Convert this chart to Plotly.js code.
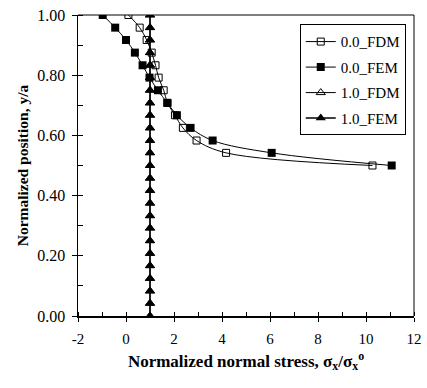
<!DOCTYPE html>
<html>
<head>
<meta charset="utf-8">
<script src="https://cdn.plot.ly/plotly-3.0.1.min.js"></script>
<style>
html,body{margin:0;padding:0;background:#fff;}
#chart{width:427px;height:388px;}
</style>
</head>
<body>
<div id="chart"></div>
<script>
// 0.0 case
var y00 = [1.000, 0.958, 0.917, 0.875, 0.833, 0.792, 0.750, 0.708, 0.667, 0.625, 0.583, 0.542, 0.500];
var x00FDM = [0.10, 0.57, 0.86, 1.07, 1.23, 1.36, 1.57, 1.73, 2.04, 2.37, 2.94, 4.17, 10.27];
var x00FEM = [-0.97, -0.45, 0.00, 0.37, 0.69, 0.98, 1.33, 1.72, 2.12, 2.69, 3.61, 6.07, 11.07];
// 1.0 case
var y10 = [0.000, 0.042, 0.083, 0.125, 0.167, 0.208, 0.250, 0.292, 0.333, 0.375, 0.417, 0.458, 0.500,
           0.542, 0.583, 0.625, 0.667, 0.708, 0.750, 0.792, 0.833, 0.875, 0.917, 0.958, 1.000];
var x10FDM = [1, 1, 1, 1, 1, 1, 1, 1, 1, 1, 1, 1, 1, 1, 1, 1, 1, 1, 1, 1, 1, 1, 1, 1, 1];
var x10FEM = [1, 1, 1, 1, 1, 1, 1, 1, 1, 1, 1, 1, 1, 1, 1, 1, 1, 1, 1, 1, 1, 1, 1, 1, 1];
var seriesNames = ['0.0_FDM', '0.0_FEM', '1.0_FDM', '1.0_FEM'];
var xTickVals = [-2, 0, 2, 4, 6, 8, 10, 12];
var yTickVals = [0, 0.2, 0.4, 0.6, 0.8, 1.0];

var FONT = 'Liberation Serif';

var traces = [
  {x: x00FDM, y: y00, name: seriesNames[0], legendgroup: 'a', mode: 'lines+markers',
   line: {color: '#000', width: 1, shape: 'spline', smoothing: 1},
   marker: {symbol: 'square-open', size: 7, color: '#000', line: {width: 1, color: '#000'}}},
  {x: x00FEM, y: y00, name: seriesNames[1], legendgroup: 'b', mode: 'lines+markers',
   line: {color: '#000', width: 1, shape: 'spline', smoothing: 1},
   marker: {symbol: 'square', size: 8, color: '#000'}},
  {x: x10FDM, y: y10, name: seriesNames[2], legendgroup: 'c', mode: 'lines+markers',
   line: {color: '#000', width: 1},
   marker: {symbol: 'triangle-up-open', size: 8, color: '#000', line: {width: 1, color: '#000'}}},
  {x: x10FEM, y: y10, name: seriesNames[3], legendgroup: 'd', mode: 'lines+markers',
   line: {color: '#000', width: 1.5},
   marker: {symbol: 'triangle-up', size: 9, color: '#000'}},
  {x: [-2], y: [0], xaxis: 'x2', yaxis: 'y2', mode: 'markers', marker: {opacity: 0}, showlegend: false, hoverinfo: 'skip'}
];

var layout = {
  width: 427, height: 388,
  margin: {l: 78, r: 13, t: 15, b: 72},
  paper_bgcolor: '#fff', plot_bgcolor: '#fff',
  font: {family: FONT, color: '#000', size: 15},
  showlegend: true,
  legend: {
    x: 0.66, y: 0.969, xanchor: 'left', yanchor: 'top',
    bgcolor: '#fff', bordercolor: '#000', borderwidth: 1,
    font: {family: FONT, size: 15, color: '#000'},
    itemwidth: 30, traceorder: 'grouped', tracegroupgap: 3
  },
  xaxis: {
    range: [-2, 12], tickvals: xTickVals, ticktext: xTickVals.map(String), automargin: false,
    showgrid: false, zeroline: false, showline: true, linecolor: '#000', linewidth: 1.5,
    ticks: 'outside', ticklen: 4, tickwidth: 1, tickcolor: '#000', ticklabelstandoff: 4,
    minor: {ticks: 'inside', dtick: 1, ticklen: 4, tickwidth: 1, tickcolor: '#000', showgrid: false},
    tickfont: {family: FONT, size: 15, color: '#000'},
    title: {text: '<b>Normalized normal stress, σ<sub>x</sub>/σ<sub>x</sub><sup>o</sup></b>', font: {family: FONT, size: 17, color: '#000'}, standoff: 9},
    fixedrange: true
  },
  yaxis: {
    range: [0, 1], tickvals: yTickVals, tickformat: '.2f', automargin: false,
    showgrid: false, zeroline: false, showline: true, linecolor: '#000', linewidth: 1.5,
    ticks: 'outside', ticklen: 5, tickwidth: 1, tickcolor: '#000', ticklabelstandoff: 3,
    minor: {ticks: 'inside', dtick: 0.1, ticklen: 5, tickwidth: 1, tickcolor: '#000', showgrid: false},
    tickfont: {family: FONT, size: 16, color: '#000'},
    title: {text: '<b>Normalized position, y/a</b>', font: {family: FONT, size: 15.5, color: '#000'}, standoff: 5},
    fixedrange: true
  },
  xaxis2: {
    overlaying: 'x', range: [-2, 12], tickvals: xTickVals, showticklabels: false, automargin: false,
    showgrid: false, zeroline: false, showline: false,
    ticks: 'inside', ticklen: 4, tickwidth: 1, tickcolor: '#000', anchor: 'y2'
  },
  yaxis2: {
    overlaying: 'y', range: [0, 1], tickvals: yTickVals, showticklabels: false, automargin: false,
    showgrid: false, zeroline: false, showline: false,
    ticks: 'inside', ticklen: 5, tickwidth: 1, tickcolor: '#000', anchor: 'x2'
  },
  shapes: [
    {type: 'line', xref: 'paper', yref: 'paper', x0: 0, x1: 1, y0: 1, y1: 1, line: {color: '#000', width: 1}},
    {type: 'line', xref: 'paper', yref: 'paper', x0: 1, x1: 1, y0: 0, y1: 1, line: {color: '#000', width: 1}}
  ]
};

Plotly.newPlot('chart', traces, layout, {displayModeBar: false, staticPlot: true});
</script>
</body>
</html>
